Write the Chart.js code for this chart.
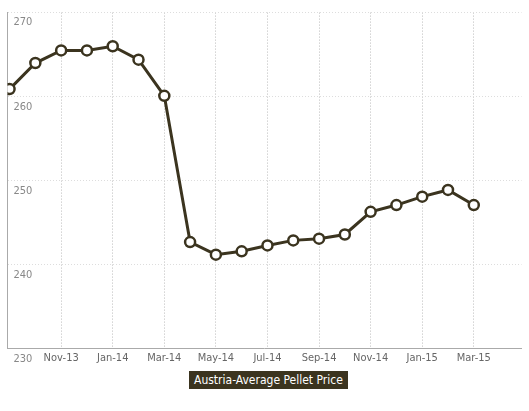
<!DOCTYPE html>
<html>
<head>
<script src="https://cdn.jsdelivr.net/npm/chart.js@4"></script>
<style>
  body { margin: 0; background: #fff; font-family: "DejaVu Sans Condensed", "Liberation Sans", sans-serif; }
  #wrap { position: relative; width: 529px; height: 368px; }
  #legend { position: absolute; left: 189px; top: 371px; background: #3b341f; color: #fff; font-size: 12px; padding: 2px 5px; }
</style>
</head>
<body>
<div id="wrap"><canvas id="chart"></canvas></div>
<div id="legend">Austria-Average Pellet Price</div>
<script>
// Data
const months = ['Sep-13', 'Oct-13', 'Nov-13', 'Dec-13', 'Jan-14', 'Feb-14', 'Mar-14', 'Apr-14', 'May-14', 'Jun-14',
    'Jul-14', 'Aug-14', 'Sep-14', 'Oct-14', 'Nov-14', 'Dec-14', 'Jan-15', 'Feb-15', 'Mar-15'];
const prices = [260.9, 264.0, 265.5, 265.5, 266.0, 264.4, 260.1, 242.7, 241.2, 241.6,
    242.3, 242.9, 243.1, 243.6, 246.3, 247.1, 248.1, 248.9, 247.1];
const yTicks = [230, 240, 250, 260, 270];

const lineColor = '#3b341f';
const tickFont = { family: '"DejaVu Sans Condensed", sans-serif', size: 11 };

new Chart(document.getElementById('chart'), {
    type: 'line',
    data: {
        datasets: [{
            label: 'Austria-Average Pellet Price',
            data: prices.map((p, i) => ({ x: i, y: p })),
            borderColor: lineColor,
            borderWidth: 3,
            pointBackgroundColor: '#fff',
            pointBorderColor: lineColor,
            pointBorderWidth: 2.5,
            pointRadius: 5,
            tension: 0
        }]
    },
    options: {
        responsive: true,
        maintainAspectRatio: false,
        animation: false,
        layout: { padding: { left: 1, right: 0, top: 0 } },
        plugins: { legend: { display: false }, tooltip: { enabled: false } },
        scales: {
            x: {
                type: 'linear',
                min: -0.08,
                max: 19.85,
                afterBuildTicks: axis => {
                    axis.ticks = months.map((m, i) => i).filter(i => i % 2 === 0 && i > 0)
                        .map(i => ({ value: i }));
                },
                ticks: {
                    color: '#666',
                    font: tickFont,
                    maxRotation: 0,
                    callback: v => months[v]
                },
                grid: { color: '#bbb', drawTicks: false },
                border: { color: '#aaa', dash: [1, 2] }
            },
            y: {
                min: 230,
                max: 270,
                afterFit: axis => { axis.width = 0; },
                afterBuildTicks: axis => { axis.ticks = yTicks.map(v => ({ value: v })); },
                ticks: {
                    mirror: true,
                    color: '#888',
                    padding: 6,
                    labelOffset: 10,
                    font: tickFont
                },
                grid: { color: '#ddd', drawTicks: false },
                border: { color: '#aaa', dash: [1, 2] }
            }
        }
    }
});
</script>
</body>
</html>
